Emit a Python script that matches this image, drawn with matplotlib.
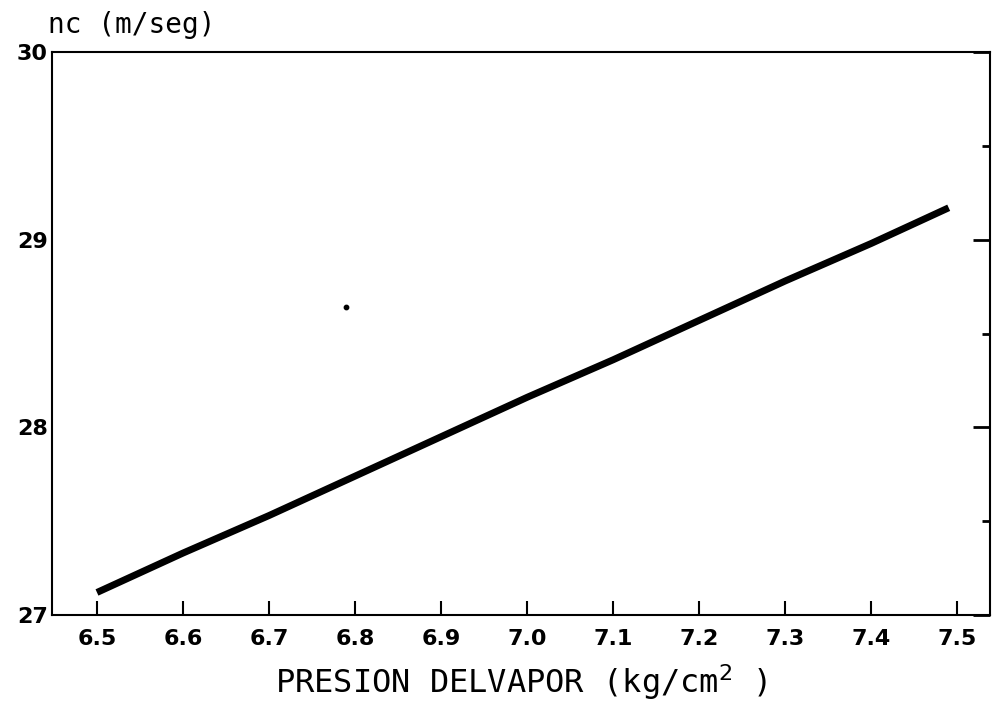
import matplotlib

matplotlib.use("Agg")
import matplotlib.pyplot as plt
from matplotlib.ticker import FixedLocator

# data
presion = [6.5, 6.6, 6.7, 6.8, 6.9, 7.0, 7.1, 7.2, 7.3, 7.4, 7.49]
nc = [27.12, 27.33, 27.53, 27.74, 27.95, 28.16, 28.36, 28.57, 28.78, 28.98, 29.17]
stray_x = [6.79]
stray_y = [28.64]
x_ticks = [6.5, 6.6, 6.7, 6.8, 6.9, 7.0, 7.1, 7.2, 7.3, 7.4, 7.5]
y_ticks = [27, 28, 29, 30]
y_minor = [27.5, 28.5, 29.5]

fig = plt.figure(figsize=(9.92, 7.03), dpi=100)
ax = fig.add_axes([0.0524, 0.1252, 0.9456, 0.8008])

ax.plot(presion, nc, color="black", linewidth=5, solid_capstyle="butt")
ax.scatter(stray_x, stray_y, s=10, color="black")

ax.set_xlim(6.4477, 7.538)
ax.set_ylim(27, 30)
ax.set_xticks(x_ticks)
ax.set_xticklabels([f"{v:.1f}" for v in x_ticks], fontsize=16, fontweight="bold")
ax.set_yticks(y_ticks)
ax.set_yticklabels([str(v) for v in y_ticks], fontsize=16, fontweight="bold")
ax.yaxis.set_minor_locator(FixedLocator(y_minor))

ax.tick_params(axis="x", direction="in", length=10, width=1.5, top=False, pad=10)
ax.tick_params(axis="y", which="major", direction="in", left=False, right=True,
               labelleft=True, length=12, width=2, pad=3)
ax.tick_params(axis="y", which="minor", direction="in", left=False, right=True, length=6, width=2)

for spine in ax.spines.values():
    spine.set_linewidth(1.5)

ax.set_xlabel("PRESION DELVAPOR (kg/cm$^2$ )", fontsize=23, family="DejaVu Sans Mono", labelpad=10)
fig.text(0.048, 0.945, "nc (m/seg)", fontsize=20, family="DejaVu Sans Mono", ha="left", va="bottom")

fig.savefig("out.png", dpi=100)
plt.close(fig)
